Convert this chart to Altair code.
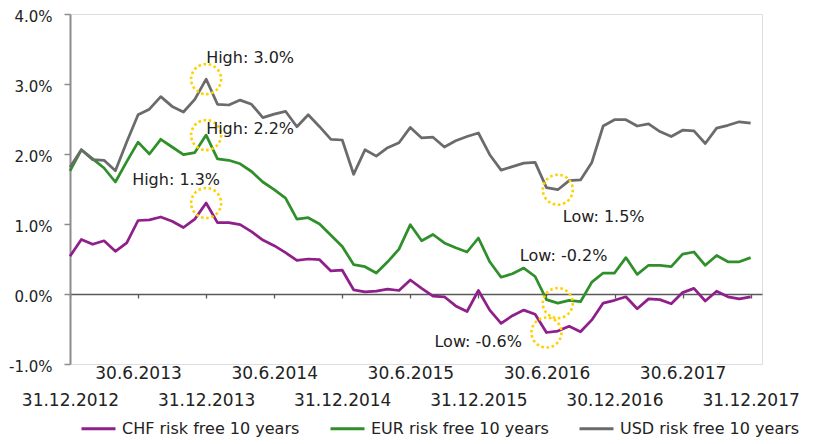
import json
import altair as alt
import numpy as np
import pandas as pd

# ---------------- data ----------------
tick_labels = ["31.12.2012", "30.6.2013", "31.12.2013", "30.6.2014", "31.12.2014",
               "30.6.2015", "31.12.2015", "30.6.2016", "30.12.2016", "30.6.2017",
               "31.12.2017"]

series_names = ["CHF risk free 10 years", "EUR risk free 10 years", "USD risk free 10 years"]

chf = [0.54, 0.78, 0.71, 0.76, 0.61, 0.73, 1.05, 1.06, 1.10, 1.04, 0.95, 1.07, 1.30,
       1.02, 1.02, 0.99, 0.89, 0.77, 0.69, 0.59, 0.48, 0.50, 0.49, 0.33, 0.34, 0.06,
       0.03, 0.04, 0.07, 0.05, 0.20, 0.08, -0.03, -0.04, -0.17, -0.25, 0.05, -0.23,
       -0.42, -0.31, -0.23, -0.29, -0.55, -0.53, -0.46, -0.54, -0.37, -0.13, -0.09,
       -0.04, -0.21, -0.07, -0.08, -0.14, 0.02, 0.08, -0.10, 0.04, -0.04, -0.07, -0.04]

eur = [1.76, 2.06, 1.93, 1.80, 1.60, 1.89, 2.17, 2.00, 2.21, 2.10, 1.99, 2.02, 2.27,
       1.93, 1.91, 1.86, 1.75, 1.60, 1.49, 1.37, 1.07, 1.09, 1.00, 0.84, 0.68, 0.42,
       0.39, 0.30, 0.46, 0.64, 0.99, 0.76, 0.85, 0.73, 0.66, 0.60, 0.80, 0.46, 0.24,
       0.29, 0.37, 0.25, -0.08, -0.13, -0.09, -0.11, 0.17, 0.30, 0.30, 0.52, 0.28,
       0.41, 0.41, 0.39, 0.57, 0.60, 0.41, 0.55, 0.46, 0.46, 0.52]

usd = [1.81, 2.06, 1.92, 1.91, 1.76, 2.17, 2.56, 2.64, 2.82, 2.68, 2.60, 2.78, 3.07,
       2.71, 2.70, 2.77, 2.71, 2.52, 2.57, 2.61, 2.39, 2.56, 2.39, 2.21, 2.20, 1.71,
       2.06, 1.97, 2.09, 2.16, 2.38, 2.23, 2.24, 2.10, 2.19, 2.25, 2.30, 1.99, 1.77,
       1.82, 1.87, 1.88, 1.52, 1.49, 1.62, 1.63, 1.88, 2.40, 2.49, 2.49, 2.40, 2.43,
       2.32, 2.25, 2.34, 2.33, 2.15, 2.37, 2.41, 2.46, 2.44]

ann_labels = ["High: 3.0%", "High: 2.2%", "High: 1.3%", "Low: 1.5%", "Low: -0.2%", "Low: -0.6%"]
ann_series = [usd, eur, chf, usd, eur, chf]
ann_kind = ["max", "max", "max", "min", "min", "min"]

# ---------------- tables ----------------
rows = []
for name, vals in zip(series_names, [chf, eur, usd]):
    for i, v in enumerate(vals):
        rows.append({"idx": i, "value": v, "series": name})
df = pd.DataFrame(rows)

ann_rows = []
for lab, vals, kind in zip(ann_labels, ann_series, ann_kind):
    i = int(np.argmax(vals)) if kind == "max" else int(np.argmin(vals))
    ann_rows.append({"idx": i, "value": vals[i], "label": lab})
ann = pd.DataFrame(ann_rows)

# ---------------- style ----------------
FONT = "DejaVu Sans"
TXT = "#222222"
colors = ["#8F1F8A", "#2F8F2A", "#6B6B6B"]
GOLD = "#FFD100"
# label offsets (px) from the highlighted point, per annotation
ann_dx = [0, 0, -74, 5, -38, -112]
ann_dy = [-21, -6, -23, 27, -47, 9]

xscale = alt.Scale(domain=[0, 61], nice=False, zero=False)
yscale = alt.Scale(domain=[-1, 4], nice=False, zero=False)

arr = json.dumps(tick_labels)
label_expr = (f"datum.value % 12 == 0 ? ['', {arr}[datum.value / 6]] "
              f": {arr}[datum.value / 6]")

x_axis = alt.Axis(values=list(range(0, 61, 6)), labelExpr=label_expr, title=None,
                  grid=False, offset=-70, domainColor="#595959", domainWidth=1.3,
                  tickColor="#595959", tickWidth=1.3, tickSize=4, labelPadding=67,
                  labelFontSize=17, labelLineHeight=27, labelOverlap=False,
                  labelFlush=False, labelBound=False, labelColor=TXT, labelFont=FONT,
                  labelBaseline="top")

y_axis = alt.Axis(values=[-1, 0, 1, 2, 3, 4],
                  labelExpr="(datum.value < 0 ? '-' : '') + format(abs(datum.value), '.1f') + '%'",
                  title=None, grid=False, domainColor="#8C8C8C", domainWidth=2,
                  tickColor="#8C8C8C", tickWidth=1.5, tickSize=6, labelPadding=12,
                  labelOffset=2, labelFontSize=15, labelColor=TXT, labelFont=FONT)


def X():
    return alt.X("idx:Q", scale=xscale, axis=x_axis, title=None)


def Y():
    return alt.Y("value:Q", scale=yscale, axis=y_axis, title=None)


lines = alt.Chart(df).mark_line(strokeWidth=2.75, strokeJoin="round").encode(
    x=X(),
    y=Y(),
    color=alt.Color("series:N",
                    scale=alt.Scale(domain=series_names, range=colors),
                    legend=alt.Legend(orient="none", legendX=10, legendY=396,
                                      direction="horizontal", title=None,
                                      symbolType="stroke", symbolSize=1156,
                                      symbolStrokeWidth=3, labelFontSize=16,
                                      labelFont=FONT, labelColor=TXT, labelOffset=5,
                                      columnPadding=24, labelLimit=400, padding=0)),
)

circles = alt.Chart(ann).mark_point(
    shape="circle", filled=False, size=900, stroke=GOLD, strokeWidth=2.6,
    strokeDash=[2.6, 2.6], opacity=1,
).encode(x=X(), y=Y())

texts = []
for lab, dx, dy in zip(ann_labels, ann_dx, ann_dy):
    texts.append(
        alt.Chart(ann).transform_filter(alt.datum.label == lab).mark_text(
            align="left", baseline="middle", dx=dx, dy=dy, fontSize=16,
            font=FONT, color=TXT,
        ).encode(x=X(), y=Y(), text="label:N")
    )

chart = alt.layer(lines, circles, *texts).properties(
    width=692, height=350,
    autosize=alt.AutoSizeParams(type="none"),
    padding={"left": 62, "top": 6, "right": 43, "bottom": 76},
).configure_view(stroke="transparent", strokeWidth=0).configure(font=FONT)

chart.save("out.html", embed_options={"renderer": "svg", "actions": False})
